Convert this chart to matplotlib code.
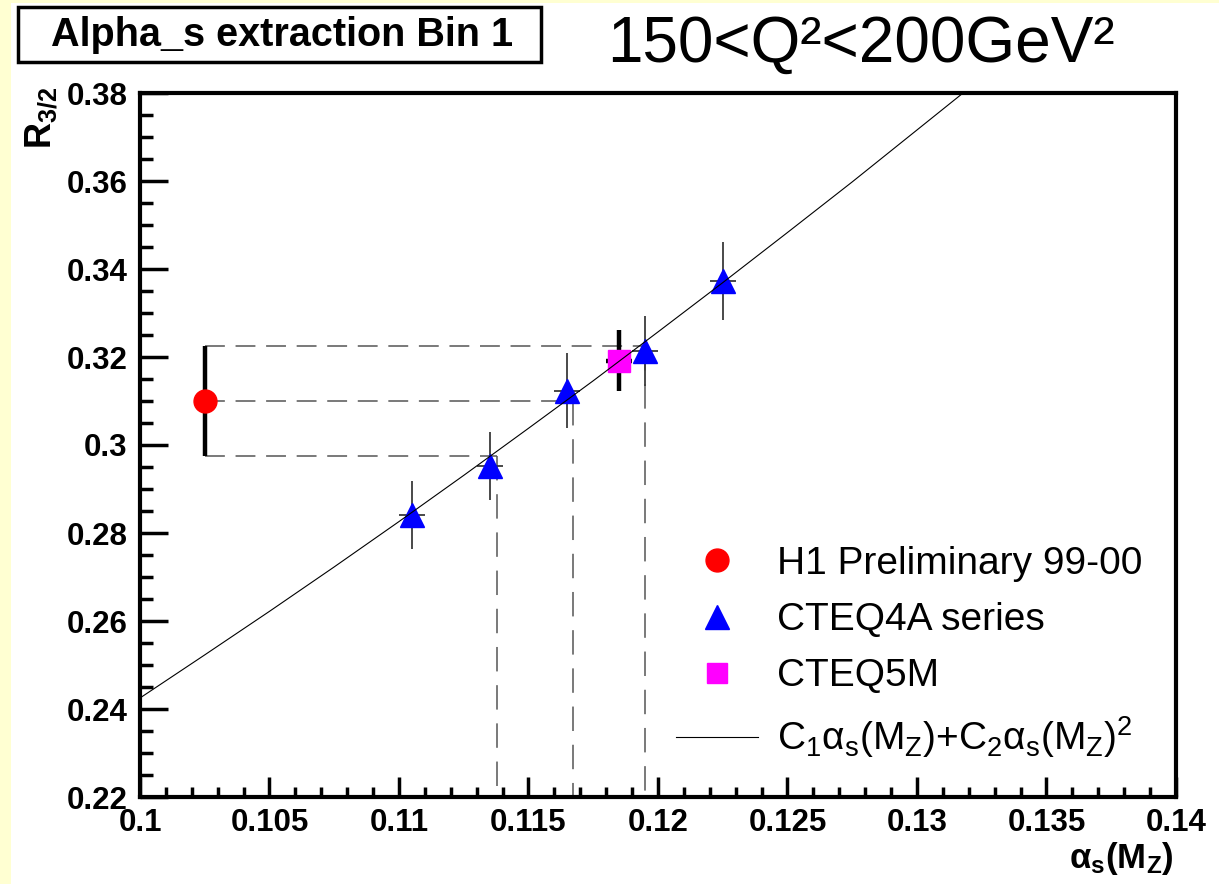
import matplotlib.pyplot as plt
from matplotlib.lines import Line2D
from matplotlib.patches import Rectangle
from matplotlib.ticker import MultipleLocator, FuncFormatter

plt.rcParams['font.family'] = ['Liberation Sans', 'DejaVu Sans']
plt.rcParams['mathtext.fontset'] = 'custom'
plt.rcParams['mathtext.rm'] = 'Liberation Sans'
plt.rcParams['mathtext.it'] = 'Liberation Sans'
plt.rcParams['mathtext.bf'] = 'Liberation Sans:bold'

# H1 measurement
h1_x = [0.1025]
h1_y = [0.310]
h1_err = [0.0125]

# CTEQ4A series
cteq4a_x = [0.1105, 0.1135, 0.1165, 0.1195, 0.1225]
cteq4a_y = [0.2841, 0.2952, 0.3123, 0.3214, 0.3372]
cteq4a_err = [0.0077, 0.0077, 0.0085, 0.0080, 0.0089]
cteq4a_xerr = [0.0005, 0.0005, 0.0005, 0.0005, 0.0005]

# CTEQ5M
cteq5m_x = [0.1185]
cteq5m_y = [0.3192]
cteq5m_err = [0.0070]
cteq5m_xerr = [0.0005]

# fitted curve C1*a + C2*a^2
fit_x = [0.100, 0.1025, 0.105, 0.1075, 0.110, 0.1125, 0.115, 0.1175,
         0.120, 0.1225, 0.125, 0.1275, 0.130, 0.1318]
fit_y = [0.2425, 0.2523, 0.2622, 0.2723, 0.2826, 0.2931, 0.3038, 0.3146,
         0.3257, 0.3369, 0.3483, 0.3598, 0.3716, 0.3801]

# H1 band projected onto the curve
band_y = [0.2976, 0.3100, 0.3226]
cross_x = [0.1138, 0.1167, 0.1195]

W, H = 1219, 884
fig = plt.figure(figsize=(W / 100, H / 100), dpi=100)
fig.patch.set_facecolor('#ffffd2')
fig.add_artist(Rectangle((11 / W, 0), 1, 881 / H, transform=fig.transFigure,
                         facecolor='white', edgecolor='none', zorder=-10))

ax = fig.add_axes([140 / W, 87 / H, 1036 / W, 704 / H])
ax.set_xlim(0.1, 0.14)
ax.set_ylim(0.22, 0.38)
ymin = ax.get_ylim()[0]

hdash = dict(color='#555555', lw=1.1, ls=(0, (13, 7)), zorder=1)
vdash = dict(color='#555555', lw=1.1, ls=(0, (16, 9)), zorder=1)
for by, cx in zip(band_y, cross_x):
    ax.plot([h1_x[0], cx], [by, by], **hdash)
    ax.plot([cx, cx], [by, ymin], **vdash)

ax.errorbar(h1_x, h1_y, yerr=h1_err, fmt='none', ecolor='black', elinewidth=3.2, zorder=2)
ax.plot(h1_x, h1_y, 'o', color='red', ms=16.5, mec='red', zorder=4)

ax.errorbar(cteq4a_x, cteq4a_y, yerr=cteq4a_err, xerr=cteq4a_xerr, fmt='none',
            ecolor='#3a3a3a', elinewidth=1.3, zorder=2)
ax.plot(cteq4a_x, cteq4a_y, '^', color='blue', ms=17, mec='blue', zorder=4)

ax.errorbar(cteq5m_x, cteq5m_y, yerr=cteq5m_err, xerr=cteq5m_xerr, fmt='none',
            ecolor='black', elinewidth=3.2, zorder=2)
ax.plot(cteq5m_x, cteq5m_y, 's', color='magenta', ms=16, mec='magenta', zorder=4)

ax.plot(fit_x, fit_y, color='black', lw=0.8, zorder=5)

# axes style
for sp in ax.spines.values():
    sp.set_linewidth(3)
ax.xaxis.set_major_locator(MultipleLocator(0.005))
ax.xaxis.set_minor_locator(MultipleLocator(0.001))
ax.yaxis.set_major_locator(MultipleLocator(0.02))
ax.yaxis.set_minor_locator(MultipleLocator(0.005))
fmt = FuncFormatter(lambda v, p: f'{round(v, 4):g}')
ax.xaxis.set_major_formatter(fmt)
ax.yaxis.set_major_formatter(fmt)
ax.tick_params(axis='both', which='both', direction='in', top=False, right=False,
               width=2.5, labelsize=22.5)
ax.tick_params(axis='y', which='major', length=20, pad=9)
ax.tick_params(axis='y', which='minor', length=9.5)
ax.tick_params(axis='x', which='major', length=14.5, pad=8)
ax.tick_params(axis='x', which='minor', length=7)
for lab in ax.get_xticklabels() + ax.get_yticklabels():
    lab.set_fontweight('bold')

# legend
handles = [
    Line2D([], [], marker='o', color='red', ls='none', ms=16.5),
    Line2D([], [], marker='^', color='blue', ls='none', ms=17),
    Line2D([], [], marker='s', color='magenta', ls='none', ms=15),
    Line2D([], [], color='black', lw=0.8),
]
labels = ['H1 Preliminary 99-00', 'CTEQ4A series', 'CTEQ5M',
          r'$\mathregular{C_1\alpha_s(M_Z){+}C_2\alpha_s(M_Z)^2}$']
fig.legend(handles, labels, loc='upper left', bbox_to_anchor=(676 / W, 1 - 546 / H),
           frameon=False, fontsize=28, handlelength=2.1, handletextpad=0.5,
           labelspacing=0.52, borderpad=0, borderaxespad=0)

# texts around the frame
fig.add_artist(Rectangle((18 / W, 1 - 62 / H), 523 / W, 55 / H, transform=fig.transFigure,
                         fill=False, edgecolor='black', lw=2.5))
fig.text(282 / W, 1 - 35 / H, 'Alpha_s extraction Bin 1', ha='center', va='center',
         fontsize=28.5, fontweight='bold')
fig.text(607 / W, 1 - 62 / H, '150<Q²<200GeV²', ha='left', va='baseline', fontsize=46)
fig.text(42 / W, 1 - 86 / H, r'$\mathbf{R_{3/2}}$', rotation=90, ha='center', va='top',
         fontsize=26)
fig.text(1174 / W, 1 - 868 / H, r'$\mathbf{\alpha_s(M_Z)}$', ha='right', va='baseline',
         fontsize=25)

fig.savefig('out.png', dpi=100, facecolor=fig.get_facecolor())
